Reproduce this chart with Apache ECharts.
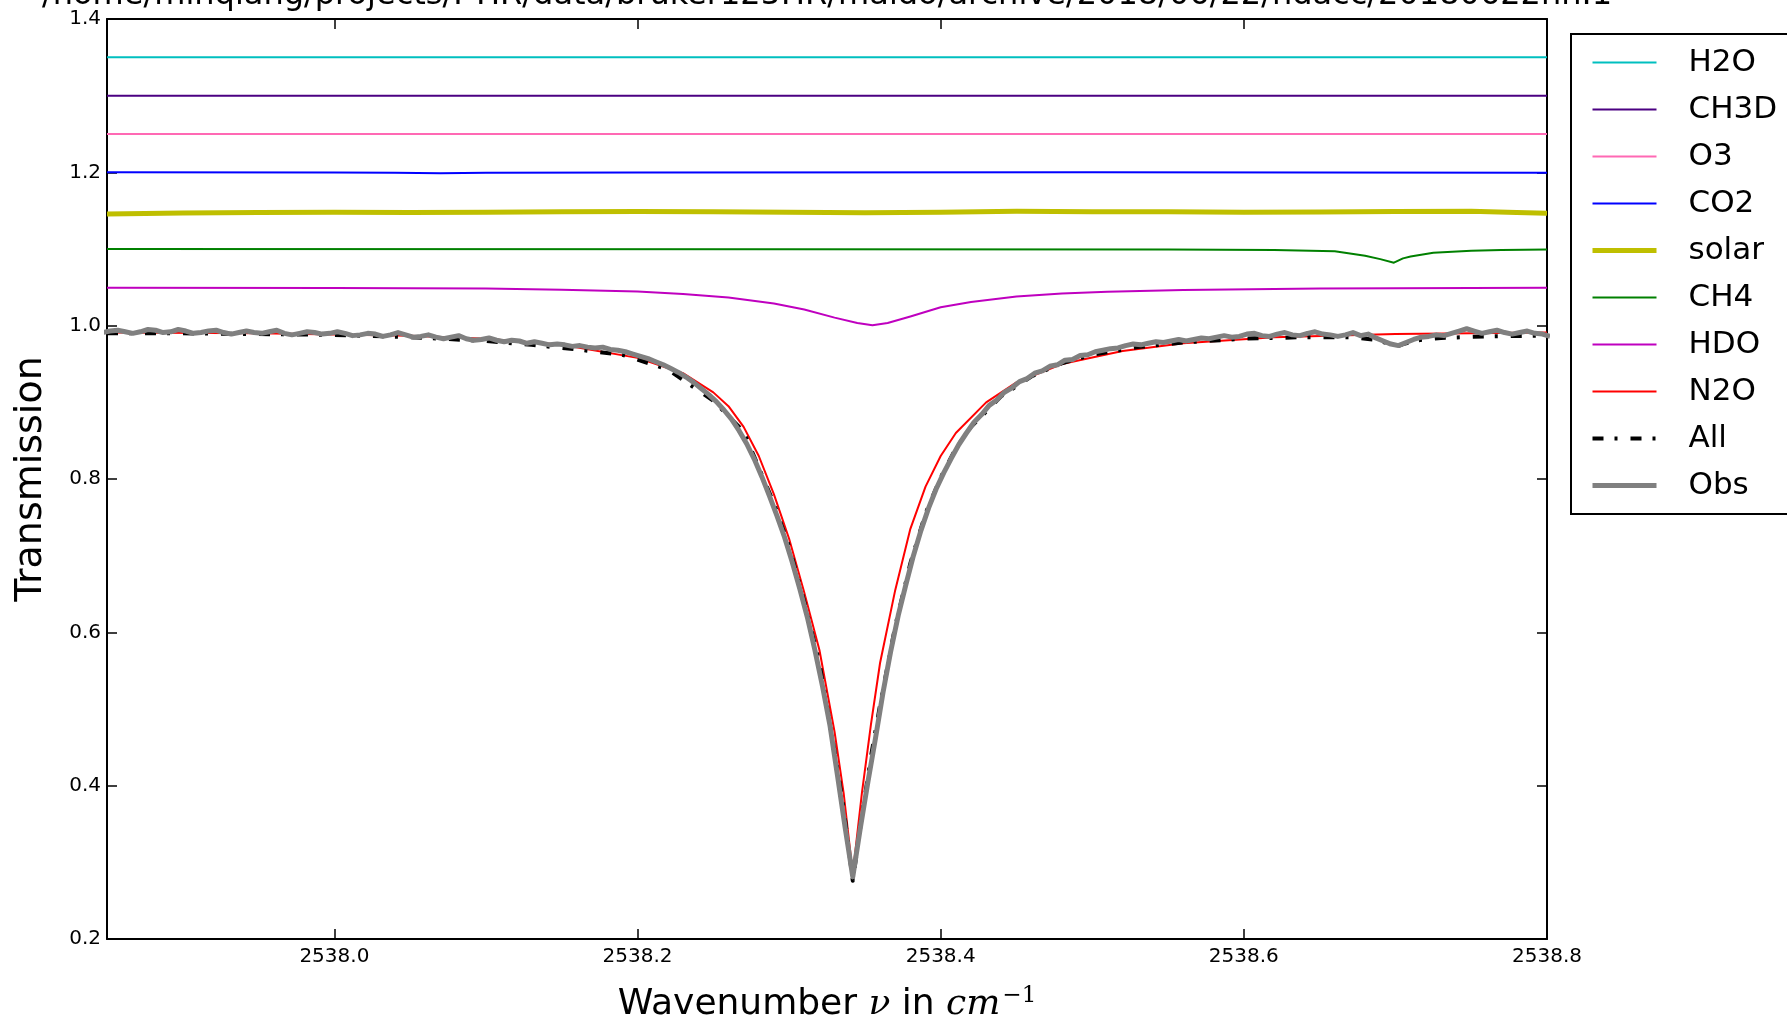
<!DOCTYPE html>
<html>
<head>
<meta charset="utf-8">
<script src="https://cdn.jsdelivr.net/npm/echarts@6/dist/echarts.min.js"></script>
<style>
  html, body { margin: 0; padding: 0; background: #fff; }
  #chart { width: 1787px; height: 1020px; }
</style>
</head>
<body>
<div id="chart"></div>
<script>
// Spectrum file shown as the heading
const fileTitle = '/home/minqiang/projects/FTIR/data/bruker125HR/maido/archive/2018/06/22/hdacc/20180622hh.1';

// Axis ticks
const xTicks = [2538.0, 2538.2, 2538.4, 2538.6, 2538.8];
const yTicks = [0.2, 0.4, 0.6, 0.8, 1.0, 1.2, 1.4];

// Flat species (offset transmission)
const wnFlat = [2537.85, 2538.80];
const h2o  = [1.35, 1.35];
const ch3d = [1.30, 1.30];
const o3   = [1.25, 1.25];

// CO2 (offset 1.2)
const wnCO2 = [2537.85, 2538.00, 2538.04, 2538.07, 2538.10, 2538.20, 2538.50, 2538.80];
const co2   = [1.2000, 1.1998, 1.1993, 1.1988, 1.1993, 1.1998, 1.2000, 1.1996];

// Solar spectrum (offset ~1.15)
const wnSolar = [2537.85, 2537.90, 2537.95, 2538.00, 2538.05, 2538.10, 2538.15, 2538.20, 2538.25,
                 2538.30, 2538.35, 2538.40, 2538.45, 2538.50, 2538.55, 2538.60, 2538.65, 2538.70,
                 2538.75, 2538.78, 2538.80];
const solar   = [1.1455, 1.1470, 1.1475, 1.1480, 1.1476, 1.1480, 1.1485, 1.1490, 1.1485,
                 1.1480, 1.1472, 1.1480, 1.1492, 1.1486, 1.1485, 1.1480, 1.1482, 1.1490,
                 1.1492, 1.1475, 1.1465];

// CH4 (offset 1.1)
const wnCH4 = [2537.85, 2538.30, 2538.55, 2538.62, 2538.66, 2538.68, 2538.69, 2538.699,
               2538.705, 2538.71, 2538.725, 2538.75, 2538.77, 2538.80];
const ch4   = [1.1000, 1.0998, 1.0993, 1.0987, 1.0970, 1.0912, 1.0868, 1.0821,
               1.0878, 1.0902, 1.0952, 1.0976, 1.0986, 1.0995];

// HDO (offset 1.05)
const wnHDO = [2537.85, 2538.00, 2538.10, 2538.15, 2538.20, 2538.23, 2538.26, 2538.29, 2538.31,
               2538.33, 2538.345, 2538.355, 2538.365, 2538.38, 2538.40, 2538.42, 2538.45,
               2538.48, 2538.51, 2538.56, 2538.65, 2538.80];
const hdo   = [1.0495, 1.0492, 1.0485, 1.0470, 1.0445, 1.0412, 1.0368, 1.0290, 1.0210,
               1.0105, 1.0035, 1.0005, 1.0035, 1.0120, 1.0240, 1.0310, 1.0380,
               1.0420, 1.0442, 1.0465, 1.0485, 1.0495];

// N2O
const wnN2O = [2537.85, 2537.95, 2538.05, 2538.10, 2538.15, 2538.20, 2538.23, 2538.25, 2538.26,
               2538.27, 2538.28, 2538.29, 2538.30, 2538.31, 2538.32, 2538.33, 2538.336, 2538.342,
               2538.348, 2538.354, 2538.36, 2538.37, 2538.38, 2538.39, 2538.40, 2538.41, 2538.43,
               2538.45, 2538.48, 2538.52, 2538.56, 2538.62, 2538.70, 2538.80];
const n2o   = [0.991, 0.990, 0.987, 0.983, 0.975, 0.958, 0.938, 0.913, 0.895,
               0.868, 0.830, 0.780, 0.722, 0.652, 0.577, 0.470, 0.390, 0.285,
               0.390, 0.480, 0.560, 0.655, 0.735, 0.790, 0.830, 0.860, 0.900,
               0.926, 0.950, 0.967, 0.977, 0.985, 0.989, 0.991];

// Full forward model
const wnAll = [2537.85, 2537.90, 2537.95, 2538.00, 2538.05, 2538.10, 2538.13, 2538.16, 2538.19,
               2538.22, 2538.25, 2538.27, 2538.29, 2538.30, 2538.31, 2538.32, 2538.33, 2538.336,
               2538.342, 2538.348, 2538.354, 2538.36, 2538.37, 2538.38, 2538.39, 2538.40, 2538.41,
               2538.42, 2538.44, 2538.46, 2538.48, 2538.50, 2538.53, 2538.56, 2538.60, 2538.64,
               2538.67, 2538.685, 2538.695, 2538.70, 2538.705, 2538.715, 2538.73, 2538.76, 2538.80];
const allModel = [0.990, 0.990, 0.989, 0.988, 0.985, 0.980, 0.975, 0.969, 0.962,
                  0.943, 0.902, 0.862, 0.768, 0.712, 0.640, 0.560, 0.445, 0.370,
                  0.276, 0.360, 0.438, 0.505, 0.608, 0.690, 0.755, 0.802, 0.840,
                  0.868, 0.908, 0.934, 0.951, 0.962, 0.972, 0.978, 0.983, 0.985,
                  0.985, 0.982, 0.977, 0.972, 0.976, 0.981, 0.984, 0.986, 0.987];

// Measured spectrum, sampled every 0.005 cm-1 from obsStart
const obsStart = 2537.847;
const obsStep = 0.005;
const obs = [
  0.991, 0.993, 0.994, 0.992, 0.990, 0.992, 0.995, 0.994, 0.991, 0.992,
  0.995, 0.993, 0.990, 0.991, 0.993, 0.994, 0.991, 0.989, 0.991, 0.993,
  0.991, 0.990, 0.992, 0.994, 0.990, 0.988, 0.990, 0.992, 0.991, 0.989,
  0.990, 0.992, 0.990, 0.987, 0.988, 0.990, 0.989, 0.986, 0.988, 0.991,
  0.988, 0.985, 0.986, 0.988, 0.985, 0.983, 0.985, 0.987, 0.983, 0.981,
  0.982, 0.984, 0.981, 0.979, 0.981, 0.980, 0.977, 0.979, 0.977, 0.975,
  0.976, 0.975, 0.973, 0.974, 0.972, 0.971, 0.972, 0.969, 0.968, 0.966,
  0.963, 0.960, 0.957, 0.953, 0.949, 0.944, 0.939, 0.933, 0.926, 0.918,
  0.910, 0.901, 0.890, 0.878, 0.863, 0.846, 0.826, 0.803,
  0.778, 0.752, 0.724, 0.692, 0.657, 0.620, 0.577, 0.530, 0.478, 0.412, 0.345, 0.281,
  0.345, 0.405, 0.462, 0.522, 0.575, 0.622, 0.662, 0.700, 0.733, 0.762, 0.787, 0.808, 0.827, 0.845,
  0.860, 0.874, 0.884, 0.896, 0.903, 0.913, 0.919, 0.927, 0.931, 0.938, 0.941, 0.947, 0.949, 0.955,
  0.956, 0.961, 0.962, 0.966,
  0.968, 0.970, 0.971, 0.974, 0.976, 0.975, 0.977, 0.979, 0.978, 0.980,
  0.982, 0.980, 0.982, 0.984, 0.983, 0.985, 0.987, 0.985, 0.986, 0.989,
  0.990, 0.987, 0.986, 0.989, 0.991, 0.988, 0.987, 0.990, 0.992, 0.989,
  0.988, 0.986, 0.988, 0.991, 0.987, 0.989, 0.984, 0.980, 0.976, 0.974,
  0.978, 0.982, 0.985, 0.986, 0.988, 0.987, 0.990, 0.993, 0.996, 0.993,
  0.990, 0.992, 0.994, 0.991, 0.989, 0.991, 0.993, 0.990, 0.989, 0.986
];

const pairs = (xs, ys) => xs.map((x, i) => [x, ys[i]]);
const obsPairs = obs.map((v, i) => [+(obsStart + i * obsStep).toFixed(3), v]);

const FONT = 'DejaVu Sans';

// name, colour, line width, dash pattern
const styles = [
  ['H2O',   '#00BFBF', 2],
  ['CH3D',  '#4B0082', 2],
  ['O3',    '#FF69B4', 2],
  ['CO2',   '#0000FF', 2],
  ['solar', '#BFBF00', 5],
  ['CH4',   '#008000', 2],
  ['HDO',   '#BF00BF', 2],
  ['N2O',   '#FF0000', 2],
  ['All',   '#000000', 4, [11, 11, 3, 13]],
  ['Obs',   '#808080', 5]
];
const seriesData = {
  H2O: pairs(wnFlat, h2o), CH3D: pairs(wnFlat, ch3d), O3: pairs(wnFlat, o3),
  CO2: pairs(wnCO2, co2), solar: pairs(wnSolar, solar), CH4: pairs(wnCH4, ch4),
  HDO: pairs(wnHDO, hdo), N2O: pairs(wnN2O, n2o), All: pairs(wnAll, allModel), Obs: obsPairs
};

const series = styles.map(([name, color, width, dash]) => ({
  name, type: 'line', data: seriesData[name],
  symbol: 'none', showSymbol: false, smooth: false,
  lineStyle: { color, width, type: dash || 'solid', cap: 'butt', join: 'round' },
  itemStyle: { color },
  emphasis: { disabled: true },
  animation: false
}));

const legendData = styles.map(([name, color, width, dash]) => ({
  name,
  lineStyle: { color, width, type: dash || 'solid', cap: 'butt' },
  itemStyle: { opacity: 0 }
}));

const chart = echarts.init(document.getElementById('chart'));

const axisLine = { show: true, onZero: false, lineStyle: { color: '#000', width: 2 } };
const tickStyle = { color: '#000', width: 1.5 };

chart.setOption({
  animation: false,
  backgroundColor: '#fff',
  graphic: [{
    type: 'text', x: 827, y: 12,
    style: { text: fileTitle, font: '32px "DejaVu Sans"', fill: '#000', align: 'center', verticalAlign: 'bottom' }
  }],
  grid: { left: 107, right: 240, top: 19, bottom: 81, containLabel: false, outerBoundsMode: 'none' },
  legend: {
    orient: 'vertical',
    left: 1571, top: 34,
    padding: [13, 80, 13, 19],
    itemWidth: 64, itemHeight: 12, itemGap: 16,
    borderColor: '#000', borderWidth: 2,
    itemStyle: { opacity: 0 },
    textStyle: { fontFamily: FONT, fontSize: 31, color: '#000', lineHeight: 31, padding: [0, 0, 0, 27] },
    data: legendData
  },
  xAxis: [{
    type: 'value', min: 2537.85, max: 2538.8, position: 'bottom',
    axisLine,
    axisTick: { show: true, inside: true, length: 10, customValues: xTicks, lineStyle: tickStyle },
    axisLabel: { customValues: xTicks, formatter: v => v.toFixed(1), fontFamily: FONT, fontSize: 20, color: '#000', margin: 8 },
    splitLine: { show: false },
    name: '{a|Wavenumber }{i|ν}{a| in }{i|cm}{s|−1}',
    nameLocation: 'middle', nameGap: 46,
    nameTextStyle: {
      rich: {
        a: { fontFamily: FONT, fontSize: 36, color: '#000' },
        i: { fontFamily: 'DejaVu Serif', fontStyle: 'italic', fontSize: 36, color: '#000' },
        s: { fontFamily: 'DejaVu Serif', fontSize: 23, color: '#000', verticalAlign: 'top', padding: [0, 0, 16, 2] }
      }
    }
  }, {
    type: 'value', min: 2537.85, max: 2538.8, position: 'top',
    axisLine,
    axisTick: { show: true, inside: true, length: 10, customValues: xTicks, lineStyle: tickStyle },
    axisLabel: { show: false },
    splitLine: { show: false }
  }],
  yAxis: [{
    type: 'value', min: 0.2, max: 1.4, position: 'left',
    axisLine,
    axisTick: { show: true, inside: true, length: 10, customValues: yTicks, lineStyle: tickStyle },
    axisLabel: { customValues: yTicks, formatter: v => v.toFixed(1), fontFamily: FONT, fontSize: 20, color: '#000', margin: 6 },
    splitLine: { show: false },
    name: 'Transmission', nameLocation: 'middle', nameGap: 57, nameRotate: 90,
    nameTextStyle: { fontFamily: FONT, fontSize: 38, color: '#000' }
  }, {
    type: 'value', min: 0.2, max: 1.4, position: 'right',
    axisLine,
    axisTick: { show: true, inside: true, length: 10, customValues: yTicks, lineStyle: tickStyle },
    axisLabel: { show: false },
    splitLine: { show: false }
  }],
  series
});
</script>
</body>
</html>
